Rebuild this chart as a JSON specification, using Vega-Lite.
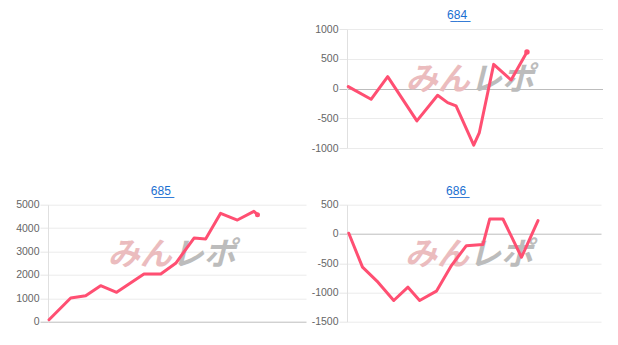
{
  "$schema": "https://vega.github.io/schema/vega-lite/v6.json",
  "background": "white",
  "padding": {"left": 15, "top": 9, "right": 0, "bottom": 0},
  "columns": 2,
  "spacing": {"row": 30.7, "column": 5},
  "datasets": {
    "d684": [
      {"i": 0.5, "v": 32}, {"i": 9.4, "v": -181}, {"i": 15.9, "v": 200}, {"i": 27.3, "v": -545},
      {"i": 35.4, "v": -114}, {"i": 39.3, "v": -237}, {"i": 42.6, "v": -293}, {"i": 49.5, "v": -953},
      {"i": 51.7, "v": -740}, {"i": 57.3, "v": 406}, {"i": 64.1, "v": 143}, {"i": 70.3, "v": 612}
    ],
    "d685": [
      {"i": 0.4, "v": 85}, {"i": 8.8, "v": 1013}, {"i": 14.6, "v": 1111}, {"i": 20.4, "v": 1538},
      {"i": 26.6, "v": 1254}, {"i": 37.2, "v": 2038}, {"i": 43.7, "v": 2038}, {"i": 49.5, "v": 2496},
      {"i": 56.6, "v": 3575}, {"i": 61.1, "v": 3533}, {"i": 66.9, "v": 4630}, {"i": 73.4, "v": 4345},
      {"i": 79.8, "v": 4715}, {"i": 81.2, "v": 4573}
    ],
    "d686": [
      {"i": 0.7, "v": 12}, {"i": 6.1, "v": -568}, {"i": 12.2, "v": -824}, {"i": 18.4, "v": -1138},
      {"i": 24, "v": -910}, {"i": 28.6, "v": -1138}, {"i": 35.2, "v": -978}, {"i": 41.1, "v": -541},
      {"i": 47, "v": -200}, {"i": 53.5, "v": -182}, {"i": 56.2, "v": 256}, {"i": 61.4, "v": 256},
      {"i": 68.7, "v": -398}, {"i": 75.2, "v": 227}
    ]
  },
  "concat": [
    {
      "width": 256, "height": 119,
      "data": {"values": []},
      "mark": "point"
    },
    {
      "width": 256, "height": 119,
      "title": {"text": "6̲8̲4̲"},
      "layer": [
        {
          "data": {"values": [{"wm": "みん"}]},
          "mark": {"type": "text", "align": "right", "baseline": "middle", "font": "Noto Sans CJK JP", "fontWeight": "bold", "fontStyle": "italic", "fontSize": 32, "color": "#ebbcbe"},
          "encoding": {
            "text": {"field": "wm"},
            "x": {"datum": 48, "scale": {"domain": [0, 100]}, "axis": null},
            "y": {"datum": 140, "scale": {"domain": [-1000, 1000], "nice": false, "zero": false}, "axis": {"values": [-1000, -500, 0, 500, 1000], "labelOverlap": false, "tickCount": 5}}
          }
        },
        {
          "data": {"values": [{"wm": "レポ"}]},
          "mark": {"type": "text", "align": "left", "baseline": "middle", "font": "Noto Sans CJK JP", "fontWeight": "bold", "fontStyle": "italic", "fontSize": 32, "color": "#bcbcbc"},
          "encoding": {"text": {"field": "wm"}, "x": {"datum": 48}, "y": {"datum": 140}}
        },
        {
          "data": {"name": "d684"},
          "mark": {"type": "line", "color": "#ff4f72", "strokeWidth": 3, "strokeCap": "round", "strokeJoin": "round"},
          "encoding": {
            "x": {"field": "i", "type": "quantitative"},
            "y": {"field": "v", "type": "quantitative"}
          }
        },
        {
          "data": {"name": "d684"},
          "transform": [{"joinaggregate": [{"op": "max", "field": "i", "as": "mx"}]}, {"filter": "datum.i === datum.mx"}],
          "mark": {"type": "point", "filled": true, "color": "#ff4f72", "size": 30, "opacity": 1},
          "encoding": {"x": {"field": "i", "type": "quantitative"}, "y": {"field": "v", "type": "quantitative"}}
        }
      ]
    },
    {
      "width": 258, "height": 117,
      "title": {"text": "6̲8̲5̲"},
      "layer": [
        {
          "data": {"values": [{"wm": "みん"}]},
          "mark": {"type": "text", "align": "right", "baseline": "middle", "font": "Noto Sans CJK JP", "fontWeight": "bold", "fontStyle": "italic", "fontSize": 32, "color": "#ebbcbe"},
          "encoding": {
            "text": {"field": "wm"},
            "x": {"datum": 48, "scale": {"domain": [0, 100]}, "axis": null},
            "y": {"datum": 2870, "scale": {"domain": [0, 5000], "nice": false}, "axis": {"values": [0, 1000, 2000, 3000, 4000, 5000], "labelOverlap": false, "tickCount": 6}}
          }
        },
        {
          "data": {"values": [{"wm": "レポ"}]},
          "mark": {"type": "text", "align": "left", "baseline": "middle", "font": "Noto Sans CJK JP", "fontWeight": "bold", "fontStyle": "italic", "fontSize": 32, "color": "#bcbcbc"},
          "encoding": {"text": {"field": "wm"}, "x": {"datum": 48}, "y": {"datum": 2870}}
        },
        {
          "data": {"name": "d685"},
          "mark": {"type": "line", "color": "#ff4f72", "strokeWidth": 3, "strokeCap": "round", "strokeJoin": "round"},
          "encoding": {
            "x": {"field": "i", "type": "quantitative"},
            "y": {"field": "v", "type": "quantitative"}
          }
        },
        {
          "data": {"name": "d685"},
          "transform": [{"joinaggregate": [{"op": "max", "field": "i", "as": "mx"}]}, {"filter": "datum.i === datum.mx"}],
          "mark": {"type": "point", "filled": true, "color": "#ff4f72", "size": 25, "opacity": 1},
          "encoding": {"x": {"field": "i", "type": "quantitative"}, "y": {"field": "v", "type": "quantitative"}}
        }
      ]
    },
    {
      "width": 254, "height": 117,
      "title": {"text": "6̲8̲6̲"},
      "layer": [
        {
          "data": {"values": [{"wm": "みん"}]},
          "mark": {"type": "text", "align": "right", "baseline": "middle", "font": "Noto Sans CJK JP", "fontWeight": "bold", "fontStyle": "italic", "fontSize": 32, "color": "#ebbcbe"},
          "encoding": {
            "text": {"field": "wm"},
            "x": {"datum": 48, "scale": {"domain": [0, 100]}, "axis": null},
            "y": {"datum": -352, "scale": {"domain": [-1500, 500], "nice": false, "zero": false}, "axis": {"values": [-1500, -1000, -500, 0, 500], "labelOverlap": false, "tickCount": 5}}
          }
        },
        {
          "data": {"values": [{"wm": "レポ"}]},
          "mark": {"type": "text", "align": "left", "baseline": "middle", "font": "Noto Sans CJK JP", "fontWeight": "bold", "fontStyle": "italic", "fontSize": 32, "color": "#bcbcbc"},
          "encoding": {"text": {"field": "wm"}, "x": {"datum": 48}, "y": {"datum": -352}}
        },
        {
          "data": {"name": "d686"},
          "mark": {"type": "line", "color": "#ff4f72", "strokeWidth": 3, "strokeCap": "round", "strokeJoin": "round"},
          "encoding": {
            "x": {"field": "i", "type": "quantitative"},
            "y": {"field": "v", "type": "quantitative"}
          }
        }
      ]
    }
  ],
  "config": {
    "view": {"stroke": null},
    "title": {"font": "Liberation Sans", "fontSize": 12, "fontWeight": "normal", "color": "#1a6fd1", "anchor": "middle", "frame": "bounds", "offset": 2},
    "axis": {
      "title": null,
      "labelExpr": "'' + datum.value",
      "labelOverlap": false,
      "labelFont": "Liberation Sans",
      "labelFontSize": 10.5,
      "labelColor": "#666666",
      "labelPadding": 1,
      "tickSize": 8,
      "tickColor": {"condition": {"test": "datum.value === 0", "value": "#bdbdbd"}, "value": "#e6e6e6"},
      "gridColor": {"condition": {"test": "datum.value === 0", "value": "#bdbdbd"}, "value": "#ebebeb"},
      "domainColor": "#e0e0e0",
      "grid": true
    }
  }
}
